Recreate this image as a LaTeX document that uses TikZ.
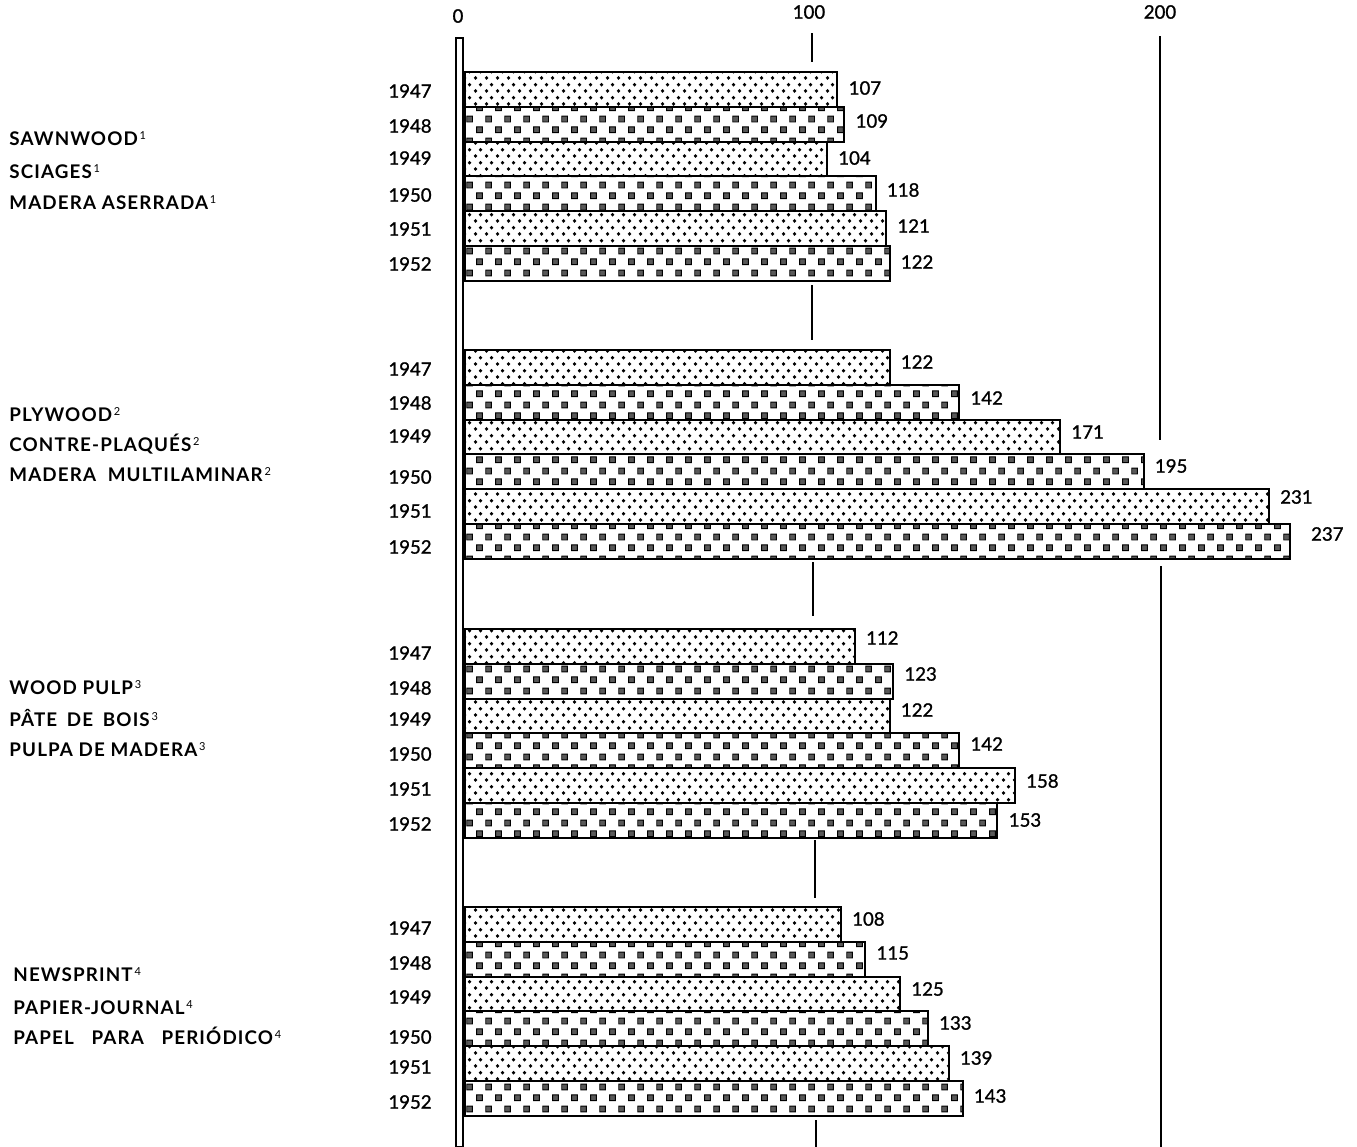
\documentclass[tikz,border=0pt]{standalone}
\usepackage{fontspec}
\setmainfont{Lato}
\newfontfamily\catfont[LetterSpace=6]{Lato}
\newfontfamily\numfont[FakeBold=1.2]{Lato}
\usetikzlibrary{patterns}
\pgfdeclarepatternformonly{mydots}{\pgfpointorigin}{\pgfpoint{5.5pt}{6.5pt}}{\pgfpoint{5.5pt}{6.5pt}}{%
  \pgfpathcircle{\pgfpoint{1.375pt}{1.625pt}}{1pt}%
  \pgfpathcircle{\pgfpoint{4.125pt}{4.875pt}}{1pt}%
  \pgfusepath{fill}}
\pgfdeclarepatterninherentlycolored{mychecks}{\pgfpointorigin}{\pgfpoint{9.5pt}{11pt}}{\pgfpoint{9.5pt}{11pt}}{%
  \pgfsetfillcolor{black!65}\pgfsetstrokecolor{black}\pgfsetlinewidth{0.5pt}%
  \pgfpathrectangle{\pgfpoint{0.9pt}{1.2pt}}{\pgfpoint{3pt}{3pt}}%
  \pgfpathrectangle{\pgfpoint{5.65pt}{6.7pt}}{\pgfpoint{3pt}{3pt}}%
  \pgfusepath{fill,stroke}}
\newcommand{\sups}[1]{\raisebox{2.6pt}{\fontsize{5.5}{6}\selectfont\mdseries\,#1}}
\begin{document}
\begin{tikzpicture}[x=0.5pt,y=-0.5pt,
  barbox/.style={draw=black,line width=1pt,inner sep=0pt,anchor=north west,minimum height=17.4pt},
  tickline/.style={line width=1.4pt},
  numlab/.style={font=\numfont\fontsize{9.3}{11}\selectfont,inner sep=0pt},
  catlab/.style={anchor=base west,font=\catfont\bfseries\fontsize{9.4}{12}\selectfont,inner sep=0pt},
]
\useasboundingbox (0,0) rectangle (1357,1147);
% zero axis
\node[draw=black,line width=0.9pt,fill=white,inner sep=0pt,anchor=north west,minimum width=3.6pt,minimum height=554.5pt] (axis0) at (455,37) {};
% axis labels
\node[numlab] (lab0) at (458,16) {0};
\node[numlab] (lab100) at (809,12) {100};
\node[numlab] (lab200) at (1160,12) {200};
% ticks
\coordinate (t1a) at (812,33);  \coordinate (t1b) at (812,62);
\coordinate (t2a) at (812,285); \coordinate (t2b) at (812,340);
\coordinate (t3a) at (813,562); \coordinate (t3b) at (813,616);
\coordinate (t4a) at (815,840); \coordinate (t4b) at (815,898);
\coordinate (t5a) at (816,1120); \coordinate (t5b) at (816,1147);
\coordinate (u1a) at (1160,36); \coordinate (u1b) at (1160,440);
\coordinate (u2a) at (1161,566); \coordinate (u2b) at (1161,1147);
\foreach \a in {t1,t2,t3,t4,t5,u1,u2} \draw[tickline] (\a a) -- (\a b);
% bars
\foreach \g/\i/\v/\bt/\yy/\vy in {
 1/0/107/71/91/88, 1/1/109/105.8/126/121, 1/2/104/140.6/158/158,
 1/3/118/175.4/195/190, 1/4/121/210.2/229/226, 1/5/122/245/264/262,
 2/0/122/349/369/362, 2/1/142/383.8/403/398, 2/2/171/418.6/436/432,
 2/3/195/453.4/477/466, 2/4/231/488.2/511/497, 2/5/237/523/547/534,
 3/0/112/628/653/638, 3/1/123/662.8/688/674, 3/2/122/697.6/719/710,
 3/3/142/732.4/754/744, 3/4/158/767.2/789/781, 3/5/153/802/824/820,
 4/0/108/906/928/919, 4/1/115/940.8/963/953, 4/2/125/975.6/997/989,
 4/3/133/1010.4/1037/1023, 4/4/139/1045.2/1067/1058, 4/5/143/1080/1102/1096}{
  \pgfmathsetmacro\w{\v*1.74}
  \pgfmathsetmacro\xe{464+\v*3.48+(\v==237 ? 22 : 12)}
  \ifodd\i\relax\def\pat{mychecks}\else\def\pat{mydots}\fi
  \node[barbox,pattern=\pat,minimum width=\w pt] (bar\g\i) at (464,\bt) {};
  \node[numlab,anchor=east] (year\g\i) at (432,\yy) {\pgfmathparse{int(1947+\i)}\pgfmathresult};
  \node[numlab,anchor=west] (val\g\i) at (\xe,\vy) {\v};
}
% category labels
\node[catlab] (c11) at (9,145) {SAWNWOOD\sups{1}};
\node[catlab] (c12) at (9,178) {SCIAGES\sups{1}};
\node[catlab] (c13) at (9,209) {MADERA ASERRADA\sups{1}};
\node[catlab] (c21) at (9,421) {PLYWOOD\sups{2}};
\node[catlab] (c22) at (9,451) {CONTRE-PLAQUÉS\sups{2}};
\node[catlab] (c23) at (9,481) {MADERA\hspace{3pt} MULTILAMINAR\sups{2}};
\node[catlab] (c31) at (9,694) {WOOD PULP\sups{3}};
\node[catlab] (c32) at (9,726) {PÂTE\hspace{2pt} DE\hspace{2pt} BOIS\sups{3}};
\node[catlab] (c33) at (9,756) {PULPA DE MADERA\sups{3}};
\node[catlab] (c41) at (13,981) {NEWSPRINT\sups{4}};
\node[catlab] (c42) at (13,1014) {PAPIER-JOURNAL\sups{4}};
\node[catlab] (c43) at (13,1044) {PAPEL\hspace{6pt} PARA\hspace{6pt} PERIÓDICO\sups{4}};
\end{tikzpicture}
\end{document}
